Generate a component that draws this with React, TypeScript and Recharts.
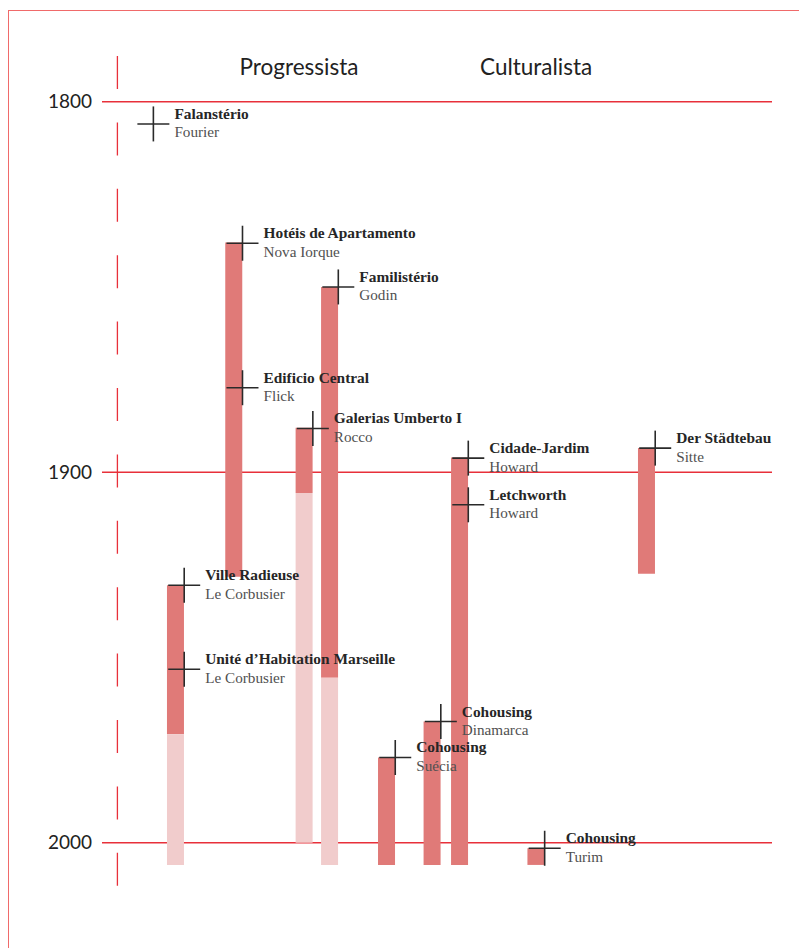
import {
  Bar,
  CartesianGrid,
  ComposedChart,
  ReferenceLine,
  Scatter,
  XAxis,
  YAxis,
} from "recharts";

// Years. "Column" places an item across the plot (0–100).
const yearTicks = [1800, 1900, 2000];
const yearDomain = [1780, 2020];

const groupNames = ["Progressista", "Culturalista"];
const groupColumns = [29.4, 64.8];

const timelineColumn = 2.3;

const barColumns = [11.0, 19.7, 30.2, 34.0, 42.5, 49.3, 53.4, 64.8, 81.3];
const barStart = [1930.5, 1838, 1888, 1850, 1977, 1967.3, 1896, 2001.5, 1893.5];
const barSolidEnd = [1970.7, 1928.2, 1905.6, 1955.5, 2006, 2006, 2006, 2006, 1927.4];
const barFadedEnd = [2006, null, 2000, 2006, null, null, null, null, null];

const eventTitles = [
  "Falanstério",
  "Hotéis de Apartamento",
  "Familistério",
  "Edificio Central",
  "Galerias Umberto I",
  "Der Städtebau",
  "Cidade-Jardim",
  "Letchworth",
  "Ville Radieuse",
  "Unité d’Habitation Marseille",
  "Cohousing",
  "Cohousing",
  "Cohousing",
];
const eventPlaces = [
  "Fourier",
  "Nova Iorque",
  "Godin",
  "Flick",
  "Rocco",
  "Sitte",
  "Howard",
  "Howard",
  "Le Corbusier",
  "Le Corbusier",
  "Dinamarca",
  "Suécia",
  "Turim",
];
const eventColumns = [6.4, 19.7, 34.0, 19.7, 30.2, 81.3, 53.4, 53.4, 11.0, 11.0, 49.3, 42.5, 64.8];
const eventYears = [1806, 1838.2, 1850, 1877.2, 1888.2, 1893.5, 1896.2, 1908.8, 1930.5, 1953.2, 1967.3, 1977, 2001.5];

const bars = barColumns.map((column, i) => ({
  column,
  solid: [barStart[i], barSolidEnd[i]],
  faded: [barSolidEnd[i], barFadedEnd[i] ?? barSolidEnd[i]],
}));

const events = eventTitles.map((title, i) => ({
  title,
  place: eventPlaces[i],
  column: eventColumns[i],
  year: eventYears[i],
}));

const RED = "#e8303a";
const SOLID = "#e07a78";
const FADED = "#f1cccc";
const INK = "#2a2a2a";
const SERIF = "'Liberation Serif', 'Times New Roman', serif";
const SANS = "Lato, 'Open Sans', sans-serif";
const BAR = 17;

// Cross sits on the bar's right edge, label to its right.
function EventMark(props: any) {
  const { cx, cy, payload } = props;
  if (cx == null || cy == null) return null;
  const x = cx + BAR / 2;
  return (
    <g>
      <line x1={x - 16} x2={x + 16} y1={cy} y2={cy} stroke={INK} strokeWidth={1.6} />
      <line x1={x} x2={x} y1={cy - 17.5} y2={cy + 17.5} stroke={INK} strokeWidth={1.6} />
      <text x={x + 21} y={cy - 5} fontFamily={SERIF} fontWeight={700} fontSize={15.4} fill="#262626">
        {payload.title}
      </text>
      <text x={x + 21} y={cy + 13.5} fontFamily={SERIF} fontSize={15.2} fill="#505050">
        {payload.place}
      </text>
    </g>
  );
}

export default function App() {
  return (
    <div
      style={{
        position: "absolute",
        left: 0,
        top: 0,
        width: 799,
        height: 948,
        overflow: "hidden",
        background: "#fff",
      }}
    >
      <div
        style={{
          position: "absolute",
          left: 7.5,
          top: 10,
          right: -10,
          bottom: -10,
          borderLeft: "1.3px solid #f06a6a",
          borderTop: "1.3px solid #f06a6a",
        }}
      />
      <div style={{ position: "absolute", left: 0, top: 0 }}>
        <ComposedChart
          width={799}
          height={948}
          data={bars}
          margin={{ top: 27.6, right: 27, bottom: 31.2, left: 42 }}
          barGap={-BAR}
          barSize={BAR}
        >
          <CartesianGrid
            vertical={false}
            horizontalValues={yearTicks}
            stroke={RED}
            strokeWidth={1.5}
          />
          <XAxis
            type="number"
            dataKey="column"
            domain={[0, 100]}
            orientation="top"
            mirror
            ticks={groupColumns}
            interval={0}
            tickFormatter={(v) => groupNames[groupColumns.indexOf(v)] ?? ""}
            axisLine={false}
            tickLine={false}
            tickSize={0}
            tickMargin={31}
            tick={{ fontFamily: SANS, fontSize: 22.5, fill: "#222" }}
          />
          <YAxis
            type="number"
            domain={yearDomain}
            reversed
            ticks={yearTicks}
            width={60}
            axisLine={false}
            tickLine={false}
            tickSize={0}
            tickMargin={10}
            tick={{ fontFamily: SANS, fontSize: 19, fill: "#222" }}
          />
          <ReferenceLine
            x={timelineColumn}
            stroke={RED}
            strokeWidth={1.3}
            strokeDasharray="33 33.4"
            strokeDashoffset={38}
          />
          <Bar dataKey="solid" fill={SOLID} isAnimationActive={false} />
          <Bar dataKey="faded" fill={FADED} isAnimationActive={false} />
          <Scatter
            data={events}
            dataKey="year"
            shape={EventMark}
            isAnimationActive={false}
          />
        </ComposedChart>
      </div>
    </div>
  );
}
